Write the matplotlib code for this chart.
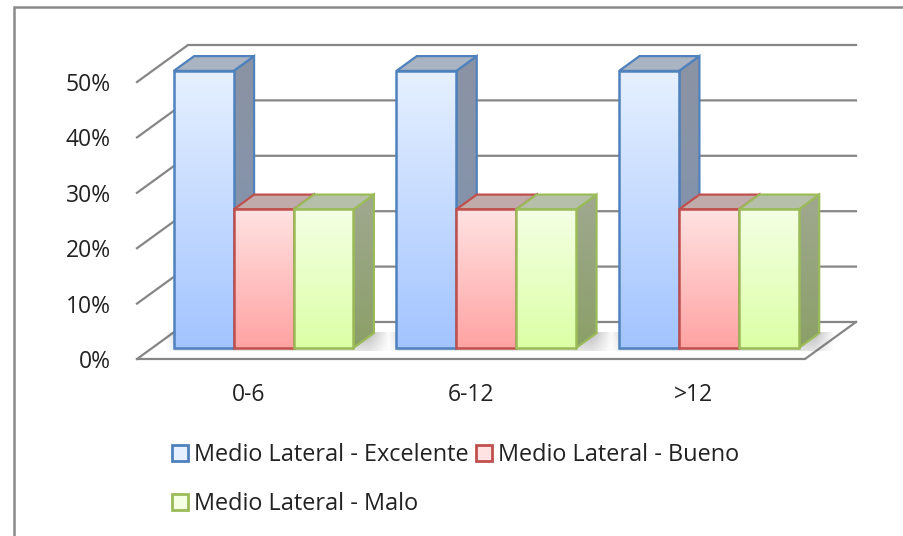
import numpy as np
import matplotlib
matplotlib.use("Agg")
import matplotlib.pyplot as plt
from matplotlib.patches import Polygon, Rectangle
from matplotlib.lines import Line2D
from matplotlib.colors import LinearSegmentedColormap

categories = ["0-6", "6-12", ">12"]
excelente = [50, 50, 50]
bueno = [25, 25, 25]
malo = [25, 25, 25]
y_ticks = [0, 10, 20, 30, 40, 50]
series_names = ["Medio Lateral - Excelente", "Medio Lateral - Bueno", "Medio Lateral - Malo"]

W, H = 904, 536
BAR_W = 0.269
DX, DY = 0.229, 6.68   # depth vector of the floor, in data units
T0, T1 = 0.3, 0.7      # bars occupy this slice of the depth
GRID = "#868686"

styles = [
    dict(edge="#4f81bd", top="#e6f0ff", bot="#a3c4ff", cap="#a9b3c1", s_top="#8b93a3", s_bot="#7f93b3"),
    dict(edge="#c0504d", top="#ffe2e2", bot="#ffa3a3", cap="#c0aaaa", s_top="#b0a0a0", s_bot="#a08888"),
    dict(edge="#9bbb59", top="#f4ffe4", bot="#dcffa6", cap="#b6bfa9", s_top="#a0a890", s_bot="#8ba068"),
]

plt.rcParams["font.family"] = ["Open Sans", "DejaVu Sans"]
fig = plt.figure(figsize=(W / 100, H / 100), dpi=100)
fig.patch.set_facecolor("white")

# front plane of the chart box in pixels: x 137..805, y 359..82
ax = fig.add_axes([137 / W, 1 - 359 / H, 668 / W, 277 / H])
ax.set_xlim(-0.5, 2.5)
ax.set_ylim(0, 50)
for s in ax.spines.values():
    s.set_visible(False)
ax.patch.set_alpha(0)
ax.set_xticks(range(3))
ax.set_xticklabels(categories, fontsize=16.5, color="#222222")
ax.set_yticks(y_ticks)
ax.set_yticklabels([f"{v}%" for v in y_ticks], fontsize=16.5, color="#222222")
ax.tick_params(length=0)
ax.tick_params(axis="x", pad=17)
ax.tick_params(axis="y", pad=19)

# outer frame: only the top and left edges fall inside the image
fig.add_artist(Line2D([14.5 / W, 14.5 / W, 1], [0, 1 - 6.5 / H, 1 - 6.5 / H], transform=fig.transFigure,
                      color="#8a8a8a", lw=1.8, solid_joinstyle="miter"))


def gradient(ax, poly, c_top, c_bot, z):
    # vertical gradient image clipped to a polygon
    poly = np.array(poly)
    cmap = LinearSegmentedColormap.from_list("g", [c_top, c_bot])
    im = ax.imshow(np.linspace(0, 1, 128).reshape(-1, 1), cmap=cmap, aspect="auto", origin="upper",
                   extent=[poly[:, 0].min(), poly[:, 0].max(), poly[:, 1].min(), poly[:, 1].max()],
                   zorder=z, interpolation="bilinear")
    patch = Polygon(poly, transform=ax.transData, fc="none", ec="none")
    ax.add_patch(patch)
    patch.set_clip_on(False)
    im.set_clip_path(patch)
    im.set_clip_box(fig.bbox)


# back wall gridlines and the side wall
for v in y_ticks:
    ax.plot([-0.5, -0.5 + DX, 2.5 + DX], [v, v + DY, v + DY], color=GRID, lw=1.6, zorder=1,
            clip_on=False, solid_joinstyle="miter")
# floor outline
ax.plot([-0.5, 2.5, 2.5 + DX], [0, 0, DY], color=GRID, lw=1.6, zorder=1, clip_on=False)

# soft shadow lying on the floor behind the bars
yy, xx = np.mgrid[0:1:40j, 0:1:400j]
for i in range(3):
    x0 = i - BAR_W * 1.5 + T0 * DX
    xs = [x0 - 0.04, x0 + 3 * BAR_W + T1 * DX - T0 * DX + 0.07]
    strip = np.zeros((40, 400, 4))
    strip[..., :3] = 0.35
    xpos = xs[0] + xx * (xs[1] - xs[0])
    right = np.clip((xs[1] - xpos) / 0.09, 0, 1)
    left = np.clip((xpos - xs[0]) / 0.04, 0, 1) * 0.5
    strip[..., 3] = 0.4 * np.minimum(left + (xpos > x0) * 0.5, right) * np.clip(1 - yy * 0.6, 0, 1)
    ax.imshow(strip, aspect="auto", extent=[xs[0], xs[1], T0 * DY - 0.5, T1 * DY + 0.2], zorder=1.5,
              interpolation="bilinear", clip_on=False)

# the bars, back faces first so neighbours overlap properly
all_vals = [excelente, bueno, malo]
for i in range(len(categories)):
    for j, vals in enumerate(all_vals):
        st = styles[j]
        v = vals[i]
        x0 = i - BAR_W * 1.5 + j * BAR_W + T0 * DX
        x1 = x0 + BAR_W
        y0 = T0 * DY
        y1 = y0 + v
        ddx = (T1 - T0) * DX
        ddy = (T1 - T0) * DY
        z = 3 + j
        front = [(x0, y0), (x1, y0), (x1, y1), (x0, y1)]
        side = [(x1, y0), (x1 + ddx, y0 + ddy), (x1 + ddx, y1 + ddy), (x1, y1)]
        cap = [(x0, y1), (x1, y1), (x1 + ddx, y1 + ddy), (x0 + ddx, y1 + ddy)]
        gradient(ax, side, st["s_top"], st["s_bot"], z)
        ax.add_patch(Polygon(side, fc="none", ec=st["edge"], lw=1.6, zorder=z, clip_on=False))
        ax.add_patch(Polygon(cap, fc=st["cap"], ec=st["edge"], lw=1.6, zorder=z, clip_on=False))
        gradient(ax, front, st["top"], st["bot"], z + 0.1)
        ax.add_patch(Polygon(front, fc="none", ec=st["edge"], lw=1.8, zorder=z + 0.2, clip_on=False))

ax.set_xlim(-0.5, 2.5)
ax.set_ylim(0, 50)

# legend fills by column, so the third series goes second to land on row two
handles = [Rectangle((0, 0), 1, 1, fc=styles[j]["top"], ec=styles[j]["edge"], lw=2) for j in (0, 2, 1)]
labels = [series_names[j] for j in (0, 2, 1)]
fig.legend(handles, labels, ncol=2, frameon=False, fontsize=16.9, labelcolor="#222222",
           loc="upper left", bbox_to_anchor=(172 / W, 1 - 443 / H), handlelength=0.68, handleheight=0.68,
           handletextpad=0.26, columnspacing=0.33, labelspacing=1.08, borderpad=0, borderaxespad=0)

fig.savefig("out.png", dpi=100)
